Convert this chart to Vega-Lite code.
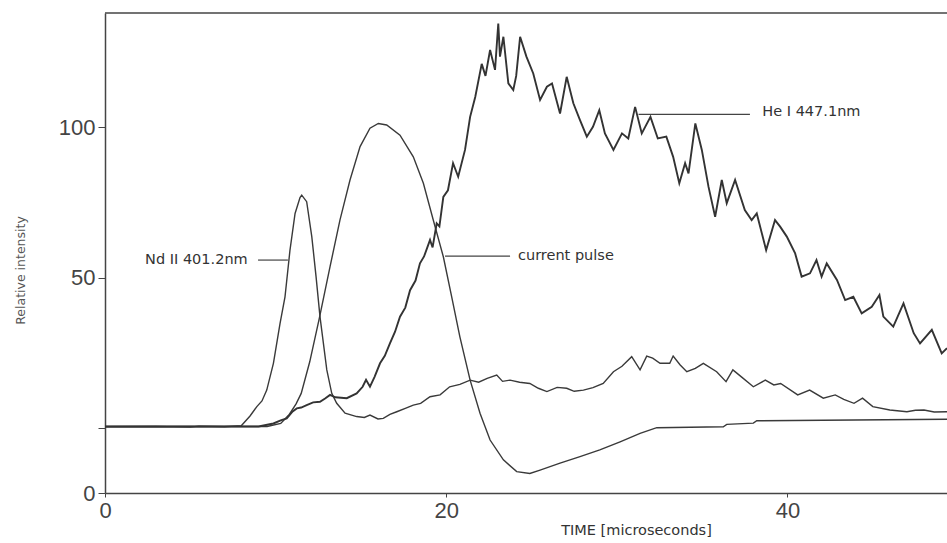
{
  "$schema": "https://vega.github.io/schema/vega-lite/v6.json",
  "autosize": "none",
  "width": 842,
  "height": 480,
  "padding": {"left": 105, "top": 13, "right": 0, "bottom": 50},
  "background": "#ffffff",
  "config": {
    "view": {"stroke": null},
    "font": "Liberation Sans",
    "axis": {"grid": false, "labelFlush": false, "labelOverlap": false, "labelBound": false}
  },
  "datasets": {
    "traces": [
      {"s": "Nd II 401.2nm", "t": 0, "v": 0.4}, {"s": "Nd II 401.2nm", "t": 3, "v": 0.5}, {"s": "Nd II 401.2nm", "t": 5, "v": 0.3}, {"s": "Nd II 401.2nm", "t": 5.5, "v": 0.6}, {"s": "Nd II 401.2nm", "t": 7, "v": 0.4},
      {"s": "Nd II 401.2nm", "t": 8.0, "v": 0.8}, {"s": "Nd II 401.2nm", "t": 8.5, "v": 4}, {"s": "Nd II 401.2nm", "t": 8.9, "v": 7.1}, {"s": "Nd II 401.2nm", "t": 9.2, "v": 9}, {"s": "Nd II 401.2nm", "t": 9.48, "v": 12.6},
      {"s": "Nd II 401.2nm", "t": 9.87, "v": 21.5}, {"s": "Nd II 401.2nm", "t": 10.26, "v": 34.8}, {"s": "Nd II 401.2nm", "t": 10.55, "v": 43.6}, {"s": "Nd II 401.2nm", "t": 10.84, "v": 59}, {"s": "Nd II 401.2nm", "t": 11.14, "v": 71.3},
      {"s": "Nd II 401.2nm", "t": 11.43, "v": 76.6}, {"s": "Nd II 401.2nm", "t": 11.53, "v": 77.4}, {"s": "Nd II 401.2nm", "t": 11.82, "v": 75.2}, {"s": "Nd II 401.2nm", "t": 12.12, "v": 63.6}, {"s": "Nd II 401.2nm", "t": 12.37, "v": 50.3},
      {"s": "Nd II 401.2nm", "t": 12.6, "v": 37}, {"s": "Nd II 401.2nm", "t": 13.0, "v": 19.3}, {"s": "Nd II 401.2nm", "t": 13.29, "v": 11.5}, {"s": "Nd II 401.2nm", "t": 13.58, "v": 8.2}, {"s": "Nd II 401.2nm", "t": 14.07, "v": 4.9},
      {"s": "Nd II 401.2nm", "t": 14.75, "v": 3.8}, {"s": "Nd II 401.2nm", "t": 15.2, "v": 3.5}, {"s": "Nd II 401.2nm", "t": 15.53, "v": 4.3}, {"s": "Nd II 401.2nm", "t": 16.0, "v": 3.0}, {"s": "Nd II 401.2nm", "t": 16.31, "v": 3.2},
      {"s": "Nd II 401.2nm", "t": 16.7, "v": 4.5}, {"s": "Nd II 401.2nm", "t": 17.1, "v": 5.4}, {"s": "Nd II 401.2nm", "t": 17.6, "v": 6.5}, {"s": "Nd II 401.2nm", "t": 18.07, "v": 7.6}, {"s": "Nd II 401.2nm", "t": 18.5, "v": 8.2},
      {"s": "Nd II 401.2nm", "t": 19.05, "v": 10.4}, {"s": "Nd II 401.2nm", "t": 19.64, "v": 11}, {"s": "Nd II 401.2nm", "t": 20.2, "v": 13.7}, {"s": "Nd II 401.2nm", "t": 20.8, "v": 14.5}, {"s": "Nd II 401.2nm", "t": 21.4, "v": 15.9},
      {"s": "Nd II 401.2nm", "t": 21.9, "v": 15.2}, {"s": "Nd II 401.2nm", "t": 22.4, "v": 16.5}, {"s": "Nd II 401.2nm", "t": 22.96, "v": 17.6}, {"s": "Nd II 401.2nm", "t": 23.3, "v": 15.5}, {"s": "Nd II 401.2nm", "t": 23.74, "v": 15.9},
      {"s": "Nd II 401.2nm", "t": 24.3, "v": 15.2}, {"s": "Nd II 401.2nm", "t": 24.9, "v": 14.8}, {"s": "Nd II 401.2nm", "t": 25.4, "v": 13.2}, {"s": "Nd II 401.2nm", "t": 25.9, "v": 12.1}, {"s": "Nd II 401.2nm", "t": 26.5, "v": 13.5},
      {"s": "Nd II 401.2nm", "t": 27.06, "v": 13.2}, {"s": "Nd II 401.2nm", "t": 27.5, "v": 12.2}, {"s": "Nd II 401.2nm", "t": 28.04, "v": 12.6}, {"s": "Nd II 401.2nm", "t": 28.6, "v": 13.4}, {"s": "Nd II 401.2nm", "t": 29.2, "v": 14.8},
      {"s": "Nd II 401.2nm", "t": 29.8, "v": 18.7}, {"s": "Nd II 401.2nm", "t": 30.3, "v": 20.5}, {"s": "Nd II 401.2nm", "t": 30.87, "v": 23.7}, {"s": "Nd II 401.2nm", "t": 31.36, "v": 19.3}, {"s": "Nd II 401.2nm", "t": 31.75, "v": 23.9},
      {"s": "Nd II 401.2nm", "t": 32.1, "v": 23.2}, {"s": "Nd II 401.2nm", "t": 32.53, "v": 21.5}, {"s": "Nd II 401.2nm", "t": 33.1, "v": 21.5}, {"s": "Nd II 401.2nm", "t": 33.3, "v": 23.9}, {"s": "Nd II 401.2nm", "t": 33.7, "v": 21},
      {"s": "Nd II 401.2nm", "t": 34.1, "v": 18.7}, {"s": "Nd II 401.2nm", "t": 34.6, "v": 19.8}, {"s": "Nd II 401.2nm", "t": 35.07, "v": 21.5}, {"s": "Nd II 401.2nm", "t": 35.85, "v": 18.7}, {"s": "Nd II 401.2nm", "t": 36.4, "v": 15.4},
      {"s": "Nd II 401.2nm", "t": 36.8, "v": 19.3}, {"s": "Nd II 401.2nm", "t": 37.3, "v": 17}, {"s": "Nd II 401.2nm", "t": 38.0, "v": 13.7}, {"s": "Nd II 401.2nm", "t": 38.7, "v": 15.9}, {"s": "Nd II 401.2nm", "t": 39.2, "v": 14.3},
      {"s": "Nd II 401.2nm", "t": 39.6, "v": 14.8}, {"s": "Nd II 401.2nm", "t": 40.6, "v": 11}, {"s": "Nd II 401.2nm", "t": 41.3, "v": 12.6}, {"s": "Nd II 401.2nm", "t": 42.1, "v": 9.9}, {"s": "Nd II 401.2nm", "t": 42.8, "v": 11},
      {"s": "Nd II 401.2nm", "t": 43.3, "v": 9.5}, {"s": "Nd II 401.2nm", "t": 43.9, "v": 8.2}, {"s": "Nd II 401.2nm", "t": 44.4, "v": 9.9}, {"s": "Nd II 401.2nm", "t": 45.0, "v": 7.1}, {"s": "Nd II 401.2nm", "t": 46.0, "v": 6},
      {"s": "Nd II 401.2nm", "t": 47.0, "v": 5.4}, {"s": "Nd II 401.2nm", "t": 47.5, "v": 5.9}, {"s": "Nd II 401.2nm", "t": 48.0, "v": 6}, {"s": "Nd II 401.2nm", "t": 48.6, "v": 5.3}, {"s": "Nd II 401.2nm", "t": 49.35, "v": 5.4},

      {"s": "He I 447.1nm", "t": 0, "v": 0.5}, {"s": "He I 447.1nm", "t": 9.0, "v": 0.5}, {"s": "He I 447.1nm", "t": 9.87, "v": 1.5}, {"s": "He I 447.1nm", "t": 10.3, "v": 2.5}, {"s": "He I 447.1nm", "t": 10.65, "v": 3.2},
      {"s": "He I 447.1nm", "t": 11.0, "v": 5.5}, {"s": "He I 447.1nm", "t": 11.24, "v": 6.5}, {"s": "He I 447.1nm", "t": 11.5, "v": 6.8}, {"s": "He I 447.1nm", "t": 11.82, "v": 7.6}, {"s": "He I 447.1nm", "t": 12.2, "v": 8.5},
      {"s": "He I 447.1nm", "t": 12.6, "v": 8.7}, {"s": "He I 447.1nm", "t": 12.9, "v": 9.8}, {"s": "He I 447.1nm", "t": 13.19, "v": 11}, {"s": "He I 447.1nm", "t": 13.5, "v": 10.2}, {"s": "He I 447.1nm", "t": 14.17, "v": 9.9},
      {"s": "He I 447.1nm", "t": 14.75, "v": 11.5}, {"s": "He I 447.1nm", "t": 15.1, "v": 13.7}, {"s": "He I 447.1nm", "t": 15.3, "v": 16}, {"s": "He I 447.1nm", "t": 15.53, "v": 13.7}, {"s": "He I 447.1nm", "t": 15.8, "v": 17},
      {"s": "He I 447.1nm", "t": 16.12, "v": 21.5}, {"s": "He I 447.1nm", "t": 16.4, "v": 24}, {"s": "He I 447.1nm", "t": 16.7, "v": 28.1}, {"s": "He I 447.1nm", "t": 17.0, "v": 32}, {"s": "He I 447.1nm", "t": 17.29, "v": 37},
      {"s": "He I 447.1nm", "t": 17.6, "v": 40}, {"s": "He I 447.1nm", "t": 17.88, "v": 45.8}, {"s": "He I 447.1nm", "t": 18.2, "v": 49}, {"s": "He I 447.1nm", "t": 18.46, "v": 54.7}, {"s": "He I 447.1nm", "t": 18.7, "v": 57},
      {"s": "He I 447.1nm", "t": 19.05, "v": 62.5}, {"s": "He I 447.1nm", "t": 19.2, "v": 60}, {"s": "He I 447.1nm", "t": 19.44, "v": 68}, {"s": "He I 447.1nm", "t": 19.6, "v": 67}, {"s": "He I 447.1nm", "t": 19.83, "v": 76.8},
      {"s": "He I 447.1nm", "t": 20.1, "v": 79}, {"s": "He I 447.1nm", "t": 20.4, "v": 88}, {"s": "He I 447.1nm", "t": 20.7, "v": 83.5}, {"s": "He I 447.1nm", "t": 21.1, "v": 92.4}, {"s": "He I 447.1nm", "t": 21.4, "v": 103.4},
      {"s": "He I 447.1nm", "t": 21.7, "v": 110}, {"s": "He I 447.1nm", "t": 22.08, "v": 121}, {"s": "He I 447.1nm", "t": 22.3, "v": 117}, {"s": "He I 447.1nm", "t": 22.57, "v": 125.6}, {"s": "He I 447.1nm", "t": 22.86, "v": 119},
      {"s": "He I 447.1nm", "t": 23.05, "v": 134.4}, {"s": "He I 447.1nm", "t": 23.15, "v": 123.4}, {"s": "He I 447.1nm", "t": 23.35, "v": 130}, {"s": "He I 447.1nm", "t": 23.64, "v": 114.5}, {"s": "He I 447.1nm", "t": 23.93, "v": 112.3},
      {"s": "He I 447.1nm", "t": 24.1, "v": 117}, {"s": "He I 447.1nm", "t": 24.33, "v": 130}, {"s": "He I 447.1nm", "t": 24.7, "v": 123.4}, {"s": "He I 447.1nm", "t": 25.1, "v": 117.8}, {"s": "He I 447.1nm", "t": 25.5, "v": 109},
      {"s": "He I 447.1nm", "t": 25.9, "v": 113.4}, {"s": "He I 447.1nm", "t": 26.2, "v": 114.5}, {"s": "He I 447.1nm", "t": 26.67, "v": 104.5}, {"s": "He I 447.1nm", "t": 27.06, "v": 116.7}, {"s": "He I 447.1nm", "t": 27.45, "v": 107.9},
      {"s": "He I 447.1nm", "t": 27.84, "v": 102.3}, {"s": "He I 447.1nm", "t": 28.24, "v": 96.8}, {"s": "He I 447.1nm", "t": 28.6, "v": 100.1}, {"s": "He I 447.1nm", "t": 28.97, "v": 105.6}, {"s": "He I 447.1nm", "t": 29.3, "v": 97.9},
      {"s": "He I 447.1nm", "t": 29.8, "v": 92.4}, {"s": "He I 447.1nm", "t": 30.3, "v": 97.9}, {"s": "He I 447.1nm", "t": 30.67, "v": 96.2}, {"s": "He I 447.1nm", "t": 31.07, "v": 106.7}, {"s": "He I 447.1nm", "t": 31.46, "v": 97.9},
      {"s": "He I 447.1nm", "t": 31.97, "v": 103.4}, {"s": "He I 447.1nm", "t": 32.4, "v": 96.2}, {"s": "He I 447.1nm", "t": 32.9, "v": 96.8}, {"s": "He I 447.1nm", "t": 33.3, "v": 90.1}, {"s": "He I 447.1nm", "t": 33.66, "v": 81.3},
      {"s": "He I 447.1nm", "t": 34.0, "v": 88}, {"s": "He I 447.1nm", "t": 34.2, "v": 84.6}, {"s": "He I 447.1nm", "t": 34.6, "v": 101.2}, {"s": "He I 447.1nm", "t": 34.98, "v": 92.4}, {"s": "He I 447.1nm", "t": 35.37, "v": 80.2},
      {"s": "He I 447.1nm", "t": 35.76, "v": 70.2}, {"s": "He I 447.1nm", "t": 36.15, "v": 82.4}, {"s": "He I 447.1nm", "t": 36.44, "v": 74.7}, {"s": "He I 447.1nm", "t": 36.93, "v": 82.4}, {"s": "He I 447.1nm", "t": 37.5, "v": 72.4},
      {"s": "He I 447.1nm", "t": 37.9, "v": 69.1}, {"s": "He I 447.1nm", "t": 38.2, "v": 71.3}, {"s": "He I 447.1nm", "t": 38.75, "v": 59.1}, {"s": "He I 447.1nm", "t": 39.27, "v": 69.1}, {"s": "He I 447.1nm", "t": 39.57, "v": 66.9},
      {"s": "He I 447.1nm", "t": 39.96, "v": 63.6}, {"s": "He I 447.1nm", "t": 40.45, "v": 58}, {"s": "He I 447.1nm", "t": 40.83, "v": 50.3}, {"s": "He I 447.1nm", "t": 41.32, "v": 51.4}, {"s": "He I 447.1nm", "t": 41.7, "v": 55.8},
      {"s": "He I 447.1nm", "t": 42.0, "v": 50.3}, {"s": "He I 447.1nm", "t": 42.3, "v": 54.7}, {"s": "He I 447.1nm", "t": 42.9, "v": 49.2}, {"s": "He I 447.1nm", "t": 43.38, "v": 42.5}, {"s": "He I 447.1nm", "t": 43.86, "v": 43.6},
      {"s": "He I 447.1nm", "t": 44.35, "v": 38.1}, {"s": "He I 447.1nm", "t": 44.94, "v": 40.3}, {"s": "He I 447.1nm", "t": 45.39, "v": 44.2}, {"s": "He I 447.1nm", "t": 45.62, "v": 37}, {"s": "He I 447.1nm", "t": 46.2, "v": 33.7},
      {"s": "He I 447.1nm", "t": 46.8, "v": 41.4}, {"s": "He I 447.1nm", "t": 47.4, "v": 31.5}, {"s": "He I 447.1nm", "t": 47.77, "v": 28.1}, {"s": "He I 447.1nm", "t": 48.46, "v": 32.6}, {"s": "He I 447.1nm", "t": 49.04, "v": 24.8},
      {"s": "He I 447.1nm", "t": 49.35, "v": 26.5},

      {"s": "current pulse", "t": 0, "v": 0.5}, {"s": "current pulse", "t": 9.5, "v": 0.5}, {"s": "current pulse", "t": 10.3, "v": 1.5}, {"s": "current pulse", "t": 10.8, "v": 4.5}, {"s": "current pulse", "t": 11.2, "v": 8},
      {"s": "current pulse", "t": 11.5, "v": 11.5}, {"s": "current pulse", "t": 12.0, "v": 22}, {"s": "current pulse", "t": 12.56, "v": 36.4}, {"s": "current pulse", "t": 13.19, "v": 53.6}, {"s": "current pulse", "t": 13.77, "v": 69.1},
      {"s": "current pulse", "t": 14.36, "v": 82.4}, {"s": "current pulse", "t": 14.95, "v": 93.5}, {"s": "current pulse", "t": 15.53, "v": 99.6}, {"s": "current pulse", "t": 16.02, "v": 101.2}, {"s": "current pulse", "t": 16.51, "v": 100.7},
      {"s": "current pulse", "t": 17.29, "v": 97.3}, {"s": "current pulse", "t": 18.07, "v": 90.1}, {"s": "current pulse", "t": 18.66, "v": 81.3}, {"s": "current pulse", "t": 19.24, "v": 69.1}, {"s": "current pulse", "t": 19.83, "v": 56.9},
      {"s": "current pulse", "t": 20.32, "v": 43.6}, {"s": "current pulse", "t": 20.8, "v": 30.3}, {"s": "current pulse", "t": 21.4, "v": 15.9}, {"s": "current pulse", "t": 21.98, "v": 4.9}, {"s": "current pulse", "t": 22.57, "v": -4},
      {"s": "current pulse", "t": 23.35, "v": -10.6}, {"s": "current pulse", "t": 24.13, "v": -14.5}, {"s": "current pulse", "t": 24.9, "v": -15.1}, {"s": "current pulse", "t": 25.5, "v": -14}, {"s": "current pulse", "t": 26.67, "v": -11.7},
      {"s": "current pulse", "t": 27.84, "v": -9.5}, {"s": "current pulse", "t": 29.0, "v": -7.3}, {"s": "current pulse", "t": 30.19, "v": -4.6}, {"s": "current pulse", "t": 31.36, "v": -1.8}, {"s": "current pulse", "t": 32.34, "v": 0.1},
      {"s": "current pulse", "t": 36.24, "v": 0.4}, {"s": "current pulse", "t": 36.44, "v": 1.2}, {"s": "current pulse", "t": 38.0, "v": 1.6}, {"s": "current pulse", "t": 38.2, "v": 2.4}, {"s": "current pulse", "t": 49.35, "v": 2.9}
    ],
    "leaders": [
      {"a": 8.97, "b": 10.72, "y": 55.8},
      {"a": 19.93, "b": 23.74, "y": 57.1},
      {"a": 31.27, "b": 37.8, "y": 104.2}
    ],
    "labelsRight": [
      {"x": 8.6, "y": 55.8, "text": "Nd II 401.2nm"}
    ],
    "labelsLeft": [
      {"x": 24.03, "y": 57.1, "text": "current pulse"},
      {"x": 38.35, "y": 105, "text": "He I 447.1nm"}
    ]
  },
  "layer": [
    {
      "data": {"name": "traces"},
      "transform": [{"filter": "datum.s != 'He I 447.1nm'"}],
      "mark": {"type": "line", "color": "#3a3a3a", "strokeWidth": 1.4, "clip": true},
      "encoding": {
        "x": {
          "field": "t", "type": "quantitative",
          "scale": {"domain": [0, 49.35], "nice": false, "zero": false},
          "axis": {
            "values": [0, 20, 40], "title": "TIME [microseconds]",
            "labelFontSize": 22, "labelColor": "#444", "labelPadding": 3,
            "tickSize": 4, "tickColor": "#444", "domainColor": "#444", "domainWidth": 1.5,
            "titleFont": "DejaVu Sans", "titleFontSize": 14.5, "titleFontWeight": "normal", "titleColor": "#333",
            "titleAnchor": "start", "titleAlign": "center", "titleX": 531, "titleY": 37, "titleBaseline": "middle"
          }
        },
        "y": {
          "field": "v", "type": "quantitative",
          "scale": {"domain": [-21.6, 137.9], "nice": false, "zero": false},
          "axis": {
            "values": [-21.6, 0, 50, 100],
            "labelExpr": "datum.value < -10 ? '0' : (datum.value == 0 ? '' : datum.label)",
            "title": "Relative intensity",
            "labelFontSize": 22, "labelColor": "#444", "labelPadding": 3,
            "tickSize": 7, "tickColor": "#444", "domainColor": "#444", "domainWidth": 1.5,
            "titleFont": "DejaVu Sans", "titleFontSize": 12.5, "titleFontWeight": "normal", "titleColor": "#555",
            "titleAnchor": "start", "titleAlign": "center", "titleX": -85, "titleY": 257, "titleBaseline": "middle", "titleAngle": 270
          }
        },
        "detail": {"field": "s"}
      }
    },
    {
      "data": {"name": "traces"},
      "transform": [{"filter": "datum.s == 'He I 447.1nm'"}],
      "mark": {"type": "line", "color": "#333333", "strokeWidth": 1.9, "clip": true},
      "encoding": {
        "x": {"field": "t", "type": "quantitative"},
        "y": {"field": "v", "type": "quantitative"}
      }
    },
    {
      "data": {"values": [{}]},
      "mark": {"type": "rule", "color": "#444", "strokeWidth": 1.5},
      "encoding": {"y": {"datum": 137.9}}
    },
    {
      "data": {"name": "leaders"},
      "mark": {"type": "rule", "color": "#444", "strokeWidth": 1.2},
      "encoding": {
        "x": {"field": "a", "type": "quantitative"},
        "x2": {"field": "b"},
        "y": {"field": "y", "type": "quantitative"}
      }
    },
    {
      "data": {"name": "labelsRight"},
      "mark": {"type": "text", "align": "right", "baseline": "middle", "font": "DejaVu Sans", "fontSize": 14.5, "color": "#333", "dx": -4},
      "encoding": {
        "x": {"field": "x", "type": "quantitative"},
        "y": {"field": "y", "type": "quantitative"},
        "text": {"field": "text"}
      }
    },
    {
      "data": {"name": "labelsLeft"},
      "mark": {"type": "text", "align": "left", "baseline": "middle", "font": "DejaVu Sans", "fontSize": 14.5, "color": "#333", "dx": 3},
      "encoding": {
        "x": {"field": "x", "type": "quantitative"},
        "y": {"field": "y", "type": "quantitative"},
        "text": {"field": "text"}
      }
    }
  ]
}
